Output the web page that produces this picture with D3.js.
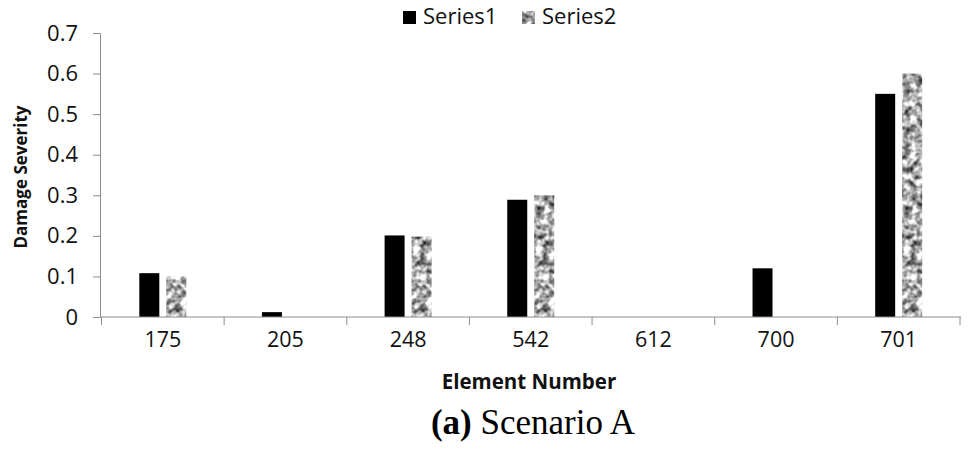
<!DOCTYPE html>
<html>
<head>
<meta charset="utf-8">
<script src="https://cdn.jsdelivr.net/npm/d3@7"></script>
<style>
  body { margin: 0; background: #fff; }
  svg { display: block; }
</style>
</head>
<body>
<div class="chart"></div>
<script>
const elements = ["175", "205", "248", "542", "612", "700", "701"];
const series = ["Series1", "Series2"];
const series1 = [0.108, 0.012, 0.201, 0.289, 0, 0.12, 0.55];
const series2 = [0.1, 0, 0.198, 0.3, 0, 0, 0.6];
const yTicks = [0, 0.1, 0.2, 0.3, 0.4, 0.5, 0.6, 0.7];

const width = 968;
const height = 450;

const svg = d3
  .select(".chart")
  .append("svg")
  .attr("width", width)
  .attr("height", height);

// speckled grey fill for Series2
const defs = svg.append("defs");
const filter = defs
  .append("filter")
  .attr("id", "speckle")
  .attr("x", 0)
  .attr("y", 0)
  .attr("width", 1)
  .attr("height", 1)
  .attr("color-interpolation-filters", "sRGB");
filter
  .append("feTurbulence")
  .attr("type", "fractalNoise")
  .attr("baseFrequency", 0.15)
  .attr("numOctaves", 2)
  .attr("seed", 4)
  .attr("result", "noise");
filter
  .append("feColorMatrix")
  .attr("in", "noise")
  .attr("type", "matrix")
  .attr(
    "values",
    "1.7 0 0 0 -0.18  1.7 0 0 0 -0.18  1.7 0 0 0 -0.18  0 0 0 0 1"
  )
  .attr("result", "grey");
filter
  .append("feComposite")
  .attr("in", "grey")
  .attr("in2", "SourceGraphic")
  .attr("operator", "in");

const x = d3.scaleBand().domain(elements).range([101.5, 960]).paddingInner(0).paddingOuter(0);
const xs = d3
  .scaleBand()
  .domain(series)
  .range([x.bandwidth() / 2 - 23.5, x.bandwidth() / 2 + 23.5])
  .paddingInner(0.26);
const y = d3.scaleLinear().domain([0, 0.7]).range([317, 33]);

const data = elements.map(function (e, i) {
  return { element: e, values: [series1[i], series2[i]] };
});

// y axis
const yAxis = svg
  .append("g")
  .attr("transform", "translate(100,0)")
  .call(
    d3
      .axisLeft(y)
      .tickValues(yTicks)
      .tickSize(7)
      .tickSizeOuter(0)
      .tickPadding(15)
      .tickFormat(function (d) {
        return d === 0 ? "0" : d.toFixed(1);
      })
  );
yAxis.select(".domain").attr("stroke", "#8c8c8c");
yAxis.selectAll(".tick line").attr("stroke", "#8c8c8c");
yAxis
  .selectAll("text")
  .attr("font-family", "Open Sans")
  .attr("font-size", "22px")
  .attr("fill", "#111");

// bars
const groups = svg
  .selectAll("g.group")
  .data(data)
  .enter()
  .append("g")
  .attr("class", "group")
  .attr("transform", function (d) {
    return "translate(" + x(d.element) + ",0)";
  });

groups
  .selectAll("rect")
  .data(function (d) {
    return d.values.map(function (v, j) {
      return { key: series[j], value: v };
    });
  })
  .enter()
  .append("rect")
  .filter(function (d) {
    return d.value > 0;
  })
  .attr("x", function (d) {
    return xs(d.key);
  })
  .attr("y", function (d) {
    return y(d.value);
  })
  .attr("width", xs.bandwidth())
  .attr("height", function (d) {
    return y(0) - y(d.value);
  })
  .attr("fill", "#000")
  .attr("filter", function (d) {
    return d.key === "Series2" ? "url(#speckle)" : null;
  });

// x axis
const xAxis = svg
  .append("g")
  .attr("transform", "translate(0,317)")
  .call(d3.axisBottom(x).tickSize(0).tickSizeOuter(0).tickPadding(15));
xAxis.select(".domain").remove();
xAxis
  .selectAll("text")
  .attr("font-family", "Open Sans")
  .attr("font-size", "21.5px")
  .attr("fill", "#111");

svg
  .append("line")
  .attr("x1", 100)
  .attr("x2", 961)
  .attr("y1", y(0))
  .attr("y2", y(0))
  .attr("stroke", "#8c8c8c");

const bounds = elements.map(function (e) {
  return x(e);
});
bounds.push(x(elements[elements.length - 1]) + x.step());
svg
  .selectAll("line.bound")
  .data(bounds)
  .enter()
  .append("line")
  .attr("class", "bound")
  .attr("x1", function (d) {
    return d;
  })
  .attr("x2", function (d) {
    return d;
  })
  .attr("y1", y(0))
  .attr("y2", y(0) + 8)
  .attr("stroke", "#8c8c8c");

// axis titles
svg
  .append("text")
  .attr("transform", "translate(27,177) rotate(-90)")
  .attr("text-anchor", "middle")
  .attr("font-family", "Open Sans")
  .attr("font-weight", "bold")
  .attr("font-size", "17px")
  .attr("fill", "#111")
  .text("Damage Severity");

svg
  .append("text")
  .attr("x", 529)
  .attr("y", 389)
  .attr("text-anchor", "middle")
  .attr("font-family", "Open Sans")
  .attr("font-weight", "bold")
  .attr("font-size", "20.5px")
  .attr("fill", "#111")
  .text("Element Number");

// caption
const caption = svg
  .append("text")
  .attr("x", 533)
  .attr("y", 434)
  .attr("text-anchor", "middle")
  .attr("font-family", "Liberation Serif")
  .attr("font-size", "35px")
  .attr("fill", "#000");
caption.append("tspan").attr("font-weight", "bold").text("(a)");
caption.append("tspan").text(" Scenario A");

// legend
const legendX = [403, 522];
const legend = svg
  .selectAll("g.legend")
  .data(series)
  .enter()
  .append("g")
  .attr("class", "legend")
  .attr("transform", function (d, i) {
    return "translate(" + legendX[i] + ",0)";
  });
legend
  .append("rect")
  .attr("x", 0)
  .attr("y", 11)
  .attr("width", 13)
  .attr("height", 13)
  .attr("fill", "#000")
  .attr("filter", function (d) {
    return d === "Series2" ? "url(#speckle)" : null;
  });
legend
  .append("text")
  .attr("x", 20)
  .attr("y", 24)
  .attr("font-family", "Open Sans")
  .attr("font-size", "22px")
  .attr("fill", "#111")
  .text(function (d) {
    return d;
  });
</script>
</body>
</html>
